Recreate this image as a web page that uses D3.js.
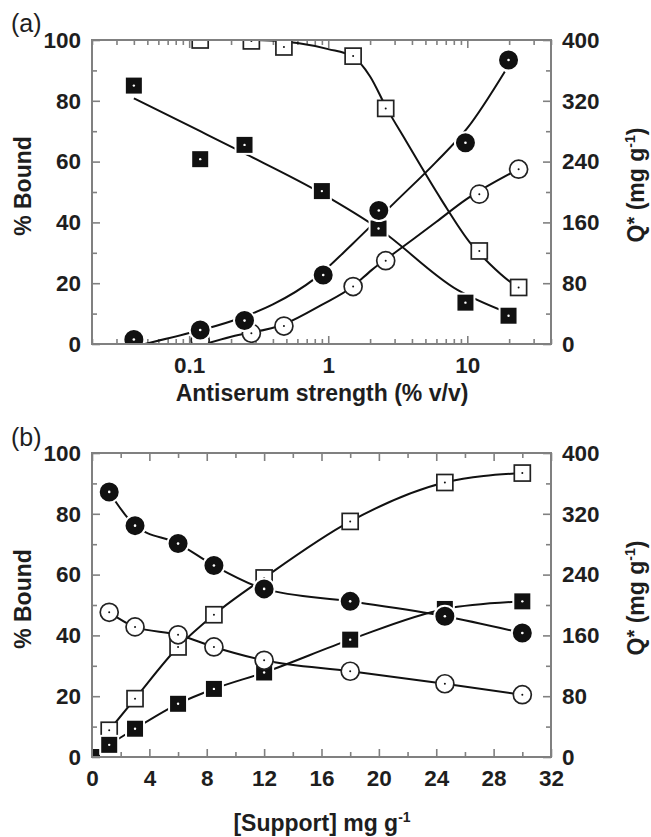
<!DOCTYPE html>
<html lang="en">
<head>
<meta charset="UTF-8">
<title>Binding vs antiserum strength and support</title>
<script src="https://cdn.jsdelivr.net/npm/d3@7"></script>
<style>
    body { margin: 0; background: #fff; }
    svg text { font-family: "Liberation Sans", Arial, sans-serif; fill: #1e1e1e; }
    .tick text { font-weight: bold; font-size: 22.5px; }
    .title { font-weight: bold; font-size: 23px; }
    .tag { font-size: 25px; }
</style>
</head>
<body>
<svg id="chart" width="651" height="837"></svg>
<script>
    // ---- panel (a): antiserum strength (% v/v), log axis ----
    let xFilledSqA = [0.04, 0.12, 0.25, 0.9, 2.3, 9.7, 19.8]
    let yFilledSqA = [85, 60.8, 65.5, 50.3, 38, 13.6, 9.3]
    let xOpenSqA = [0.12, 0.28, 0.48, 1.51, 2.59, 12.2, 23.4]
    let yOpenSqA = [100, 99.7, 97.7, 94.7, 77.5, 30.6, 18.6]
    let xFilledCircA = [0.04, 0.12, 0.25, 0.92, 2.31, 9.7, 19.8]
    let yFilledCircA = [1.5, 4.6, 7.7, 22.7, 43.9, 66.2, 93.4]
    let xOpenCircA = [0.12, 0.28, 0.48, 1.51, 2.59, 12.2, 23.4]
    let yOpenCircA = [1.3, 3.5, 5.9, 18.9, 27.4, 49.3, 57.5]

    // fitted curves in (a)
    let fitFilledSqX = [0.04, 0.12, 0.25, 0.9, 2.3, 8.5, 18.7]
    let fitFilledSqY = [80.8, 70, 62.7, 49.5, 38, 17.8, 10.6]
    let fitOpenSqX = [0.12, 0.3, 0.6, 1.0, 1.5, 2.0, 2.6, 3.6, 6.5, 10.6, 14.4, 21, 23.4]
    let fitOpenSqY = [100, 100, 99, 97, 94.5, 88, 78, 67, 47.5, 33, 26.5, 20, 18.6]
    let fitFilledCircX = [0.048, 0.1, 0.2, 0.4, 0.8, 1.5, 3, 6, 10, 18.6]
    let fitFilledCircY = [0, 3.6, 7.5, 13, 21.5, 33, 46.5, 60, 71, 89.6]
    let fitOpenCircX = [0.13, 0.2, 0.48, 0.89, 1.51, 2.05, 3.2, 6, 9.7, 23.4]
    let fitOpenCircY = [0, 2.4, 6.5, 12.8, 19, 24.3, 30.9, 40.2, 47.4, 57.5]

    let xMajorA = [0.1, 1, 10]
    let xMinorA = [0.02, 0.03, 0.04, 0.05, 0.06, 0.07, 0.08, 0.09,
        0.2, 0.3, 0.4, 0.5, 0.6, 0.7, 0.8, 0.9,
        2, 3, 4, 5, 6, 7, 8, 9, 20, 30, 40]

    // ---- panel (b): [Support] mg g-1 ----
    let xB = [1.2, 3, 6, 8.5, 12, 18, 24.6, 30]
    let yFilledCircB = [87.2, 76.1, 70.2, 63.0, 55.3, 51.2, 46.3, 40.8]
    let yOpenSqB = [8.8, 19.2, 36.2, 46.8, 58.9, 77.5, 90.3, 93.4]
    let yOpenCircB = [47.6, 42.8, 40.2, 36.2, 31.8, 28.2, 24.1, 20.5]
    let xFilledSqB = [0, 1.2, 3, 6, 8.5, 12, 18, 24.6, 30]
    let yFilledSqB = [0, 4.0, 9.3, 17.5, 22.4, 27.8, 38.6, 48.7, 51.2]

    let xMajorB = [0, 4, 8, 12, 16, 20, 24, 28, 32]
    let xMinorB = [2, 6, 10, 14, 18, 22, 26, 30]

    let yMajor = [0, 20, 40, 60, 80, 100]
    let yMinor = [10, 30, 50, 70, 90]
    let qMajor = [0, 80, 160, 240, 320, 400]
    let qMinor = [40, 120, 200, 280, 360]

    const svg = d3.select("#chart")
    const left = 92, right = 551
    const gray = "#808080"

    function zip(xs, ys) {
        return xs.map((v, i) => [v, ys[i]])
    }

    function panel(p) {
        let g = svg.append("g")
        let x = p.x
        let y = d3.scaleLinear().domain([0, 100]).range([p.bottom, p.top])
        let yR = d3.scaleLinear().domain([0, 400]).range([p.bottom, p.top])

        g.append("clipPath").attr("id", "clip-" + p.id)
            .append("rect")
            .attr("x", left).attr("y", p.top)
            .attr("width", right - left).attr("height", p.bottom - p.top)

        // axes: inward ticks, major + minor, mirrored on top
        let axes = [
            [d3.axisBottom(x).tickValues(p.xMajor).tickSize(-8).tickPadding(13).tickFormat(d3.format("~g")), p.bottom],
            [d3.axisBottom(x).tickValues(p.xMinor).tickSize(-5).tickFormat(""), p.bottom],
            [d3.axisTop(x).tickValues(p.xMajor).tickSize(-8).tickFormat(""), p.top],
            [d3.axisTop(x).tickValues(p.xMinor).tickSize(-5).tickFormat(""), p.top]
        ]
        for (let [ax, ty] of axes) {
            g.append("g").attr("transform", `translate(0,${ty})`).call(ax.tickSizeOuter(0))
        }
        g.append("g").attr("transform", `translate(${left},0)`)
            .call(d3.axisLeft(y).tickValues(yMajor).tickSize(-8).tickPadding(11).tickSizeOuter(0))
        g.append("g").attr("transform", `translate(${left},0)`)
            .call(d3.axisLeft(y).tickValues(yMinor).tickSize(-5).tickFormat("").tickSizeOuter(0))
        g.append("g").attr("transform", `translate(${right},0)`)
            .call(d3.axisRight(yR).tickValues(qMajor).tickSize(-8).tickPadding(11).tickSizeOuter(0))
        g.append("g").attr("transform", `translate(${right},0)`)
            .call(d3.axisRight(yR).tickValues(qMinor).tickSize(-5).tickFormat("").tickSizeOuter(0))
        g.selectAll(".domain").remove()
        g.selectAll(".tick line").attr("stroke", gray).attr("stroke-width", 1.6)

        // curves
        let line = d3.line().x(d => x(d[0])).y(d => y(d[1])).curve(d3.curveMonotoneX)
        let plot = g.append("g").attr("clip-path", `url(#clip-${p.id})`)
        for (let c of p.curves) {
            plot.append("path").attr("d", line(c))
                .attr("fill", "none").attr("stroke", "#111").attr("stroke-width", 2)
        }

        // markers: squares first, circles on top
        for (let s of p.squares) {
            let m = plot.selectAll(null).data(s.pts).enter().append("g")
                .attr("transform", d => `translate(${x(d[0])},${y(d[1])})`)
            if (s.filled) {
                m.append("rect").attr("x", -9).attr("y", -9).attr("width", 18).attr("height", 18)
                    .attr("fill", "#111").attr("stroke", "#fff").attr("stroke-width", 2)
                m.append("circle").attr("r", 1.2).attr("fill", "#fff")
            } else {
                m.append("rect").attr("x", -8).attr("y", -8).attr("width", 16).attr("height", 16)
                    .attr("fill", "#fff").attr("stroke", "#222").attr("stroke-width", 1.7)
                m.append("circle").attr("r", 1).attr("fill", "#111")
            }
        }
        for (let s of p.circles) {
            let m = plot.selectAll(null).data(s.pts).enter().append("g")
                .attr("transform", d => `translate(${x(d[0])},${y(d[1])})`)
            if (s.filled) {
                m.append("circle").attr("r", 10.5)
                    .attr("fill", "#111").attr("stroke", "#fff").attr("stroke-width", 2)
                m.append("circle").attr("r", 1.3).attr("fill", "#fff")
            } else {
                m.append("circle").attr("r", 9)
                    .attr("fill", "#fff").attr("stroke", "#222").attr("stroke-width", 1.7)
                m.append("circle").attr("r", 1).attr("fill", "#111")
            }
        }

        // frame
        g.append("rect").attr("x", left).attr("y", p.top)
            .attr("width", right - left).attr("height", p.bottom - p.top)
            .attr("fill", "none").attr("stroke", gray).attr("stroke-width", 2)

        // titles
        let my = (p.top + p.bottom) / 2
        g.append("text").attr("class", "title")
            .attr("transform", `translate(31,${my - 6}) rotate(-90)`)
            .attr("text-anchor", "middle").text("% Bound")
        let q = g.append("text").attr("class", "title")
            .attr("transform", `translate(644,${my - 7}) rotate(-90)`)
            .attr("text-anchor", "middle")
        q.append("tspan").text("Q")
        q.append("tspan").attr("font-size", 20).attr("dy", -3).text("*")
        q.append("tspan").attr("dy", 3).text(" (mg g")
        q.append("tspan").attr("font-size", 14).attr("dy", -9).text("-1")
        q.append("tspan").attr("dy", 9).text(")")

        let xt = g.append("text").attr("class", "title")
            .attr("x", 322).attr("y", p.xTitleY).attr("text-anchor", "middle")
        xt.append("tspan").text(p.xTitle)
        if (p.xSup) {
            xt.append("tspan").attr("font-size", 14).attr("dy", -9).text(p.xSup)
        }
        g.append("text").attr("class", "tag").attr("x", 11).attr("y", p.tagY).text(p.tag)
    }

    panel({
        id: "a", top: 40, bottom: 344, tag: "(a)", tagY: 32,
        x: d3.scaleLog().domain([0.02, 40]).range([left, right]),
        xMajor: xMajorA, xMinor: xMinorA,
        xTitle: "Antiserum strength (% v/v)", xTitleY: 400.5,
        curves: [zip(fitFilledSqX, fitFilledSqY), zip(fitOpenSqX, fitOpenSqY),
            zip(fitFilledCircX, fitFilledCircY), zip(fitOpenCircX, fitOpenCircY)],
        squares: [{filled: false, pts: zip(xOpenSqA, yOpenSqA)}, {filled: true, pts: zip(xFilledSqA, yFilledSqA)}],
        circles: [{filled: false, pts: zip(xOpenCircA, yOpenCircA)}, {filled: true, pts: zip(xFilledCircA, yFilledCircA)}]
    })

    panel({
        id: "b", top: 453, bottom: 757, tag: "(b)", tagY: 446,
        x: d3.scaleLinear().domain([0, 32]).range([left, right]),
        xMajor: xMajorB, xMinor: xMinorB,
        xTitle: "[Support] mg g", xSup: "-1", xTitleY: 831,
        curves: [zip(xFilledSqB, yFilledSqB), zip(xB, yOpenSqB), zip(xB, yFilledCircB), zip(xB, yOpenCircB)],
        squares: [{filled: false, pts: zip(xB, yOpenSqB)}, {filled: true, pts: zip(xFilledSqB, yFilledSqB)}],
        circles: [{filled: false, pts: zip(xB, yOpenCircB)}, {filled: true, pts: zip(xB, yFilledCircB)}]
    })
</script>
</body>
</html>
